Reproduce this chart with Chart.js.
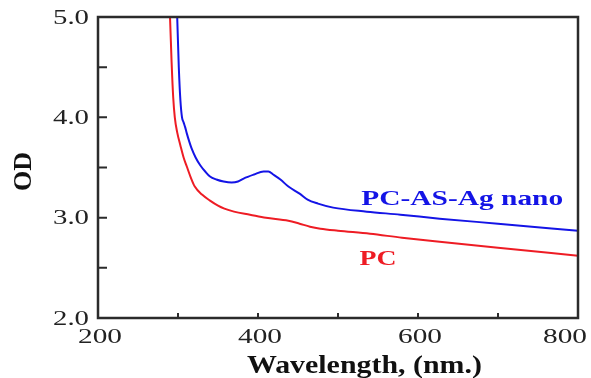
<!DOCTYPE html>
<html>
<head>
<meta charset="utf-8">
<script src="https://cdn.jsdelivr.net/npm/chart.js@4.4.1/dist/chart.umd.min.js"></script>
<style>
  html, body { margin: 0; padding: 0; background: #fff; }
  #wrap { width: 591px; height: 378px; }
</style>
</head>
<body>
<div id="wrap"><canvas id="chart"></canvas></div>
<script>
// PC film
const pcWavelength = [286, 290, 292, 294, 296, 299, 303, 307, 311, 316, 321, 330, 340, 350, 358, 370, 390, 410, 438, 452, 465, 478, 500, 540, 580, 627, 700, 800];
const pcOD = [5.6, 5.0, 4.55, 4.2, 4.0, 3.85, 3.72, 3.6, 3.51, 3.4, 3.31, 3.23, 3.17, 3.12, 3.09, 3.06, 3.03, 3.0, 2.97, 2.94, 2.91, 2.89, 2.87, 2.84, 2.8, 2.76, 2.7, 2.62];

// PC-AS-Ag nano film
const agWavelength = [296, 299, 301, 303, 305, 307, 309, 311, 314, 317, 322, 328, 334, 340, 348, 357, 367, 375, 382, 395, 407, 413, 419, 428, 438, 452, 462, 475, 494, 536, 578, 627, 700, 800];
const agOD = [5.6, 5.0, 4.5, 4.17, 4.0, 3.95, 3.9, 3.84, 3.76, 3.69, 3.6, 3.52, 3.46, 3.41, 3.38, 3.36, 3.35, 3.36, 3.39, 3.43, 3.46, 3.46, 3.43, 3.38, 3.31, 3.24, 3.18, 3.14, 3.1, 3.06, 3.03, 2.99, 2.94, 2.87];

const seriesNames = ['PC', 'PC-AS-Ag nano'];
const seriesColors = ['#ee1c24', '#1414e6'];
const xTickLabels = ['200', '400', '600', '800'];
const yTickLabels = ['2.0', '3.0', '4.0', '5.0'];
const xTitle = 'Wavelength, (nm.)';
const yTitle = 'OD';

const serif = '"Liberation Serif", "Times New Roman", Times, serif';

function toPoints(xs, ys) {
  return xs.map((x, i) => ({ x: x, y: ys[i] }));
}

// text stretched to a given width, like the scanned figure
function wideText(chart, text, x, y, width, align) {
  const ctx = chart.ctx;
  const sx = width / ctx.measureText(text).width;
  let left = x;
  if (align == 'center') left = x - width / 2;
  if (align == 'right') left = x - width;
  if (left + width > chart.width - 4) left = chart.width - 4 - width;
  ctx.save();
  ctx.translate(left, y);
  ctx.scale(sx, 1);
  ctx.textAlign = 'left';
  ctx.fillText(text, 0, 0);
  ctx.restore();
}

const framePlugin = {
  id: 'frame',
  afterDraw(chart) {
    const ctx = chart.ctx;
    const a = chart.chartArea;
    const x = chart.scales.x;
    const y = chart.scales.y;

    ctx.save();
    ctx.strokeStyle = '#2b2b2b';
    ctx.lineWidth = 2.5;
    ctx.strokeRect(a.left, a.top, a.right - a.left, a.bottom - a.top);

    // inward tick marks
    ctx.lineWidth = 2;
    ctx.beginPath();
    for (const t of x.ticks) {
      const px = x.getPixelForValue(t.value);
      if (px <= a.left + 1 || px >= a.right - 1) continue;
      ctx.moveTo(px, a.bottom);
      ctx.lineTo(px, a.bottom - 5);
    }
    for (const t of y.ticks) {
      const py = y.getPixelForValue(t.value);
      if (py <= a.top + 1 || py >= a.bottom - 1) continue;
      ctx.moveTo(a.left, py);
      ctx.lineTo(a.left + 9, py);
    }
    ctx.stroke();

    // tick labels
    ctx.fillStyle = '#222';
    ctx.font = '20px ' + serif;
    ctx.textBaseline = 'alphabetic';
    for (const t of x.ticks) {
      if (!t.label) continue;
      wideText(chart, t.label, x.getPixelForValue(t.value) + 2, a.bottom + 25, 44, 'center');
    }
    for (const t of y.ticks) {
      if (!t.label) continue;
      wideText(chart, t.label, a.left - 9, y.getPixelForValue(t.value) + 6.5, 36, 'right');
    }

    // axis titles
    ctx.fillStyle = '#111';
    ctx.font = 'bold 26px ' + serif;
    wideText(chart, xTitle, a.left + (a.right - a.left) * 0.555, a.bottom + 55, 235, 'center');

    ctx.save();
    ctx.translate(31, (a.top + a.bottom) / 2 + 4);
    ctx.rotate(-Math.PI / 2);
    ctx.textAlign = 'center';
    ctx.fillText(yTitle, 0, 0);
    ctx.restore();

    // series names next to the curves
    ctx.font = 'bold 22px ' + serif;
    ctx.fillStyle = seriesColors[1];
    wideText(chart, seriesNames[1], x.getPixelForValue(529), y.getPixelForValue(3.126), 202, 'left');
    ctx.fillStyle = seriesColors[0];
    wideText(chart, seriesNames[0], x.getPixelForValue(527), y.getPixelForValue(2.528), 37, 'left');

    ctx.restore();
  },
};

new Chart(document.getElementById('chart'), {
  type: 'line',
  data: {
    datasets: [
      {
        label: seriesNames[0],
        data: toPoints(pcWavelength, pcOD),
        borderColor: seriesColors[0],
        borderWidth: 2,
        pointRadius: 0,
        cubicInterpolationMode: 'monotone',
      },
      {
        label: seriesNames[1],
        data: toPoints(agWavelength, agOD),
        borderColor: seriesColors[1],
        borderWidth: 2,
        pointRadius: 0,
        cubicInterpolationMode: 'monotone',
      },
    ],
  },
  options: {
    responsive: true,
    maintainAspectRatio: false,
    animation: false,
    layout: {
      padding: { left: 0, top: 17, right: 13, bottom: 0 },
    },
    plugins: {
      legend: { display: false },
      tooltip: { enabled: false },
    },
    scales: {
      x: {
        type: 'linear',
        min: 200,
        max: 800,
        grid: { display: false },
        border: { display: false },
        ticks: {
          display: false,
          autoSkip: false,
          stepSize: 100,
          callback: (v) => (xTickLabels.includes(String(v)) ? String(v) : ''),
        },
        afterFit: (s) => { s.height = 60; },
      },
      y: {
        min: 2,
        max: 5,
        grid: { display: false },
        border: { display: false },
        ticks: {
          display: false,
          autoSkip: false,
          stepSize: 0.5,
          callback: (v) => (yTickLabels.includes(v.toFixed(1)) ? v.toFixed(1) : ''),
        },
        afterFit: (s) => { s.width = 98; },
      },
    },
  },
  plugins: [framePlugin],
});
</script>
</body>
</html>
